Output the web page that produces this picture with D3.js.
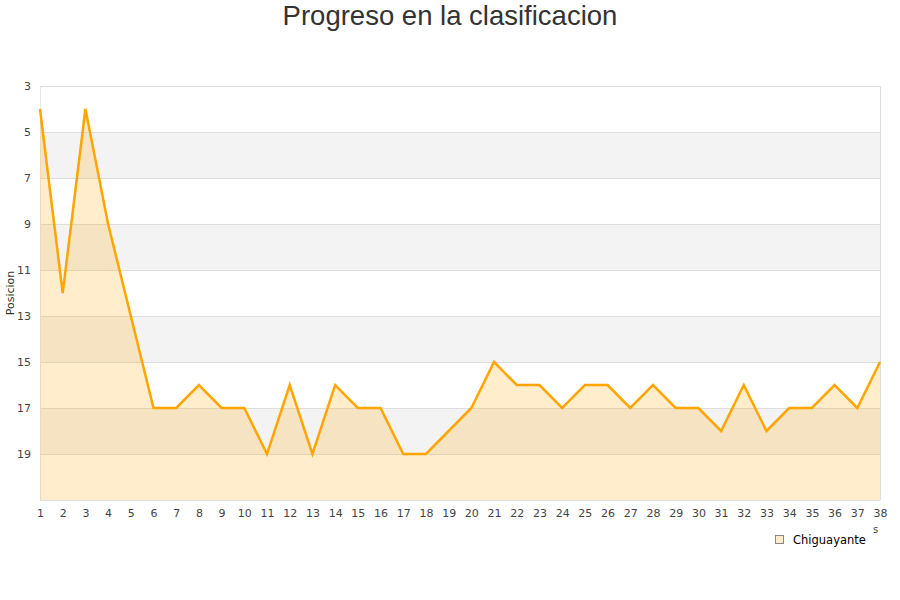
<!DOCTYPE html>
<html><head><meta charset="utf-8">
<script src="https://cdn.jsdelivr.net/npm/d3@7"></script>
<style>body{margin:0;background:#fff;font-family:"DejaVu Sans",sans-serif;}</style>
</head><body><svg id="c" width="900" height="600"></svg>
<script>
const jornadas = d3.range(1, 39);
const posiciones = [4,12,4,9,13,17,17,16,17,17,19,16,19,16,17,17,19,19,18,17,15,16,16,17,16,16,17,16,17,17,18,16,18,17,17,16,17,15];
const yTicks = [3,5,7,9,11,13,15,17,19];
const seriesName = "Chiguayante";

const svg = d3.select("#c");
const L = 40, R = 880, T = 86, B = 500;
const x = d3.scaleLinear().domain([1, 38]).range([L, R]);
const y = d3.scaleLinear().domain([3, 21]).range([T, B]);

const bands = [[5,7],[9,11],[13,15],[17,19]];
svg.selectAll("rect.band").data(bands).enter().append("rect")
  .attr("x", L).attr("width", R - L)
  .attr("y", d => y(d[0])).attr("height", d => y(d[1]) - y(d[0]))
  .attr("fill", "#f3f3f3");
svg.selectAll("line.grid").data(yTicks.concat([21])).enter().append("line")
  .attr("x1", L).attr("x2", R).attr("y1", d => y(d) + 0.5).attr("y2", d => y(d) + 0.5)
  .attr("stroke", "#dddddd");
svg.append("line").attr("x1", R + 0.5).attr("x2", R + 0.5).attr("y1", T).attr("y2", B).attr("stroke", "#dddddd");
svg.append("line").attr("x1", L + 0.5).attr("x2", L + 0.5).attr("y1", T).attr("y2", B).attr("stroke", "#e6e6e6");

const data = jornadas.map((j, i) => ({j, p: posiciones[i]}));
svg.append("path").datum(data)
  .attr("d", d3.area().x(d => x(d.j)).y0(B).y1(d => y(d.p)))
  .attr("fill", "#ffa500").attr("fill-opacity", 0.2);
svg.append("path").datum(data)
  .attr("d", d3.line().x(d => x(d.j)).y(d => y(d.p)))
  .attr("fill", "none").attr("stroke", "#ffa500").attr("stroke-width", 2.5).attr("stroke-linejoin", "miter");

const yAxis = d3.axisLeft(y).tickValues(yTicks).tickSize(0).tickPadding(9);
const gy = svg.append("g").attr("transform", `translate(${L},0)`).call(yAxis);
gy.select(".domain").remove();
gy.selectAll("text").attr("font-size", 11).attr("fill", "#444").attr("font-family", "DejaVu Sans, sans-serif");

const xAxis = d3.axisBottom(x).tickValues(jornadas).tickFormat(d3.format("d")).tickSize(0).tickPadding(9);
const gx = svg.append("g").attr("transform", `translate(0,${B})`).call(xAxis);
gx.select(".domain").remove();
gx.selectAll("text").attr("font-size", 11).attr("fill", "#444").attr("font-family", "DejaVu Sans, sans-serif");

svg.append("text").attr("x", 450).attr("y", 25).attr("text-anchor", "middle")
  .attr("font-size", 27.5).attr("fill", "#333").attr("font-family", "Liberation Sans, Arial, sans-serif")
  .text("Progreso en la clasificacion");
svg.append("text").attr("transform", "translate(14,293) rotate(-90)").attr("text-anchor", "middle")
  .attr("font-size", 11).attr("fill", "#333").text("Posicion");
svg.append("text").attr("x", 873).attr("y", 533).attr("font-size", 10).attr("fill", "#444").text("s");

svg.append("rect").attr("x", 775.5).attr("y", 535.5).attr("width", 8).attr("height", 8)
  .attr("fill", "#ffedcc").attr("stroke", "#888").attr("stroke-width", 1);
svg.append("text").attr("x", 793).attr("y", 543.5).attr("font-size", 11.5).attr("fill", "#000").text(seriesName);
</script></body></html>
